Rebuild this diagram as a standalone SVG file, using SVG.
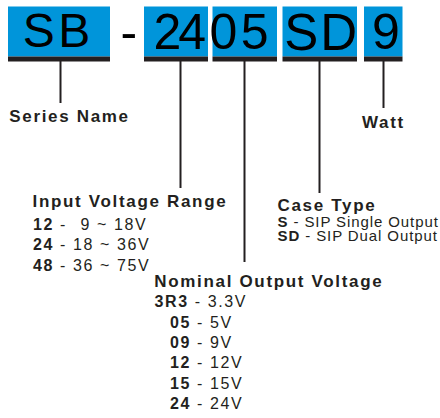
<svg xmlns="http://www.w3.org/2000/svg" width="440" height="418" viewBox="0 0 440 418">
<style>
.box{fill:#0095DA}
.bar{fill:#231f20}
.big{font-family:"Liberation Sans",Arial,sans-serif;fill:#000}
.conn{stroke:#231f20;stroke-width:2;fill:none}
.hd{font-family:"Liberation Sans",Arial,sans-serif;font-weight:bold;font-size:17px;letter-spacing:1.67px;fill:#231f20}
.row{font-family:"Liberation Sans",Arial,sans-serif;font-size:16px;letter-spacing:1.6px;fill:#231f20}
.crow{font-family:"Liberation Sans",Arial,sans-serif;font-size:15px;letter-spacing:0.9px;fill:#231f20}
.b{font-weight:bold}
</style>
<rect width="440" height="418" fill="#fff"/>
<g id="code-SB">
<rect class="box" x="8" y="6.5" width="102" height="50"/>
<rect class="bar" x="8" y="56.5" width="102" height="5"/>
<text class="big" font-size="48" x="22.7 58.2" y="47">SB</text>
</g>
<g id="code-dash">
<text class="big" font-size="50" x="120.5" y="49">-</text>
</g>
<g id="code-24">
<rect class="box" x="144" y="6.5" width="64" height="50"/>
<rect class="bar" x="144" y="56.5" width="64" height="5"/>
<text class="big" font-size="50" x="153.5 178.3" y="49">24</text>
</g>
<g id="code-05">
<rect class="box" x="212.5" y="6.5" width="64.5" height="50"/>
<rect class="bar" x="212.5" y="56.5" width="64.5" height="5"/>
<text class="big" font-size="50" x="209.6 240.8" y="49">05</text>
</g>
<g id="code-SD">
<rect class="box" x="282.5" y="6.5" width="74.5" height="50"/>
<rect class="bar" x="282.5" y="56.5" width="74.5" height="5"/>
<text class="big" font-size="51" x="284.3 320.3" y="49.5">SD</text>
</g>
<g id="code-9">
<rect class="box" x="364" y="6.5" width="38.5" height="50"/>
<rect class="bar" x="364" y="56.5" width="38.5" height="5"/>
<text class="big" font-size="50" x="372" y="49">9</text>
</g>
<g id="connectors">
<line class="conn" x1="60.5" y1="61" x2="60.5" y2="103"/>
<line class="conn" x1="180.5" y1="61" x2="180.5" y2="188"/>
<line class="conn" x1="244.5" y1="61" x2="244.5" y2="262"/>
<line class="conn" x1="319.5" y1="61" x2="319.5" y2="193"/>
<line class="conn" x1="383.5" y1="61" x2="383.5" y2="108"/>
</g>
<g id="label-series">
<text class="hd" x="9.3" y="122">Series Name</text>
</g>
<g id="label-watt">
<text class="hd" x="362" y="128">Watt</text>
</g>
<g id="label-input">
<text class="hd" x="32.5" y="206.5">Input Voltage Range</text>
<text class="row" x="33" y="229.5"><tspan class="b">12</tspan> -<tspan x="80.5">9 ~ 18V</tspan></text>
<text class="row" x="33" y="250"><tspan class="b">24</tspan> - 18 ~ 36V</text>
<text class="row" x="33" y="270.5"><tspan class="b">48</tspan> - 36 ~ 75V</text>
</g>
<g id="label-case">
<text class="hd" x="277.5" y="210.5">Case Type</text>
<text class="crow" x="277.5" y="226.5"><tspan class="b">S</tspan> - SIP Single Output</text>
<text class="crow" x="277.5" y="241"><tspan class="b">SD</tspan> - SIP Dual Output</text>
</g>
<g id="label-output">
<text class="hd" x="154.3" y="287">Nominal Output Voltage</text>
<text class="row" x="154.5" y="307"><tspan class="b">3R3</tspan> - 3.3V</text>
<text class="row" x="170" y="328"><tspan class="b">05</tspan> - 5V</text>
<text class="row" x="170" y="348"><tspan class="b">09</tspan> - 9V</text>
<text class="row" x="170" y="368"><tspan class="b">12</tspan> - 12V</text>
<text class="row" x="170" y="388.5"><tspan class="b">15</tspan> - 15V</text>
<text class="row" x="170" y="409"><tspan class="b">24</tspan> - 24V</text>
</g>
</svg>
